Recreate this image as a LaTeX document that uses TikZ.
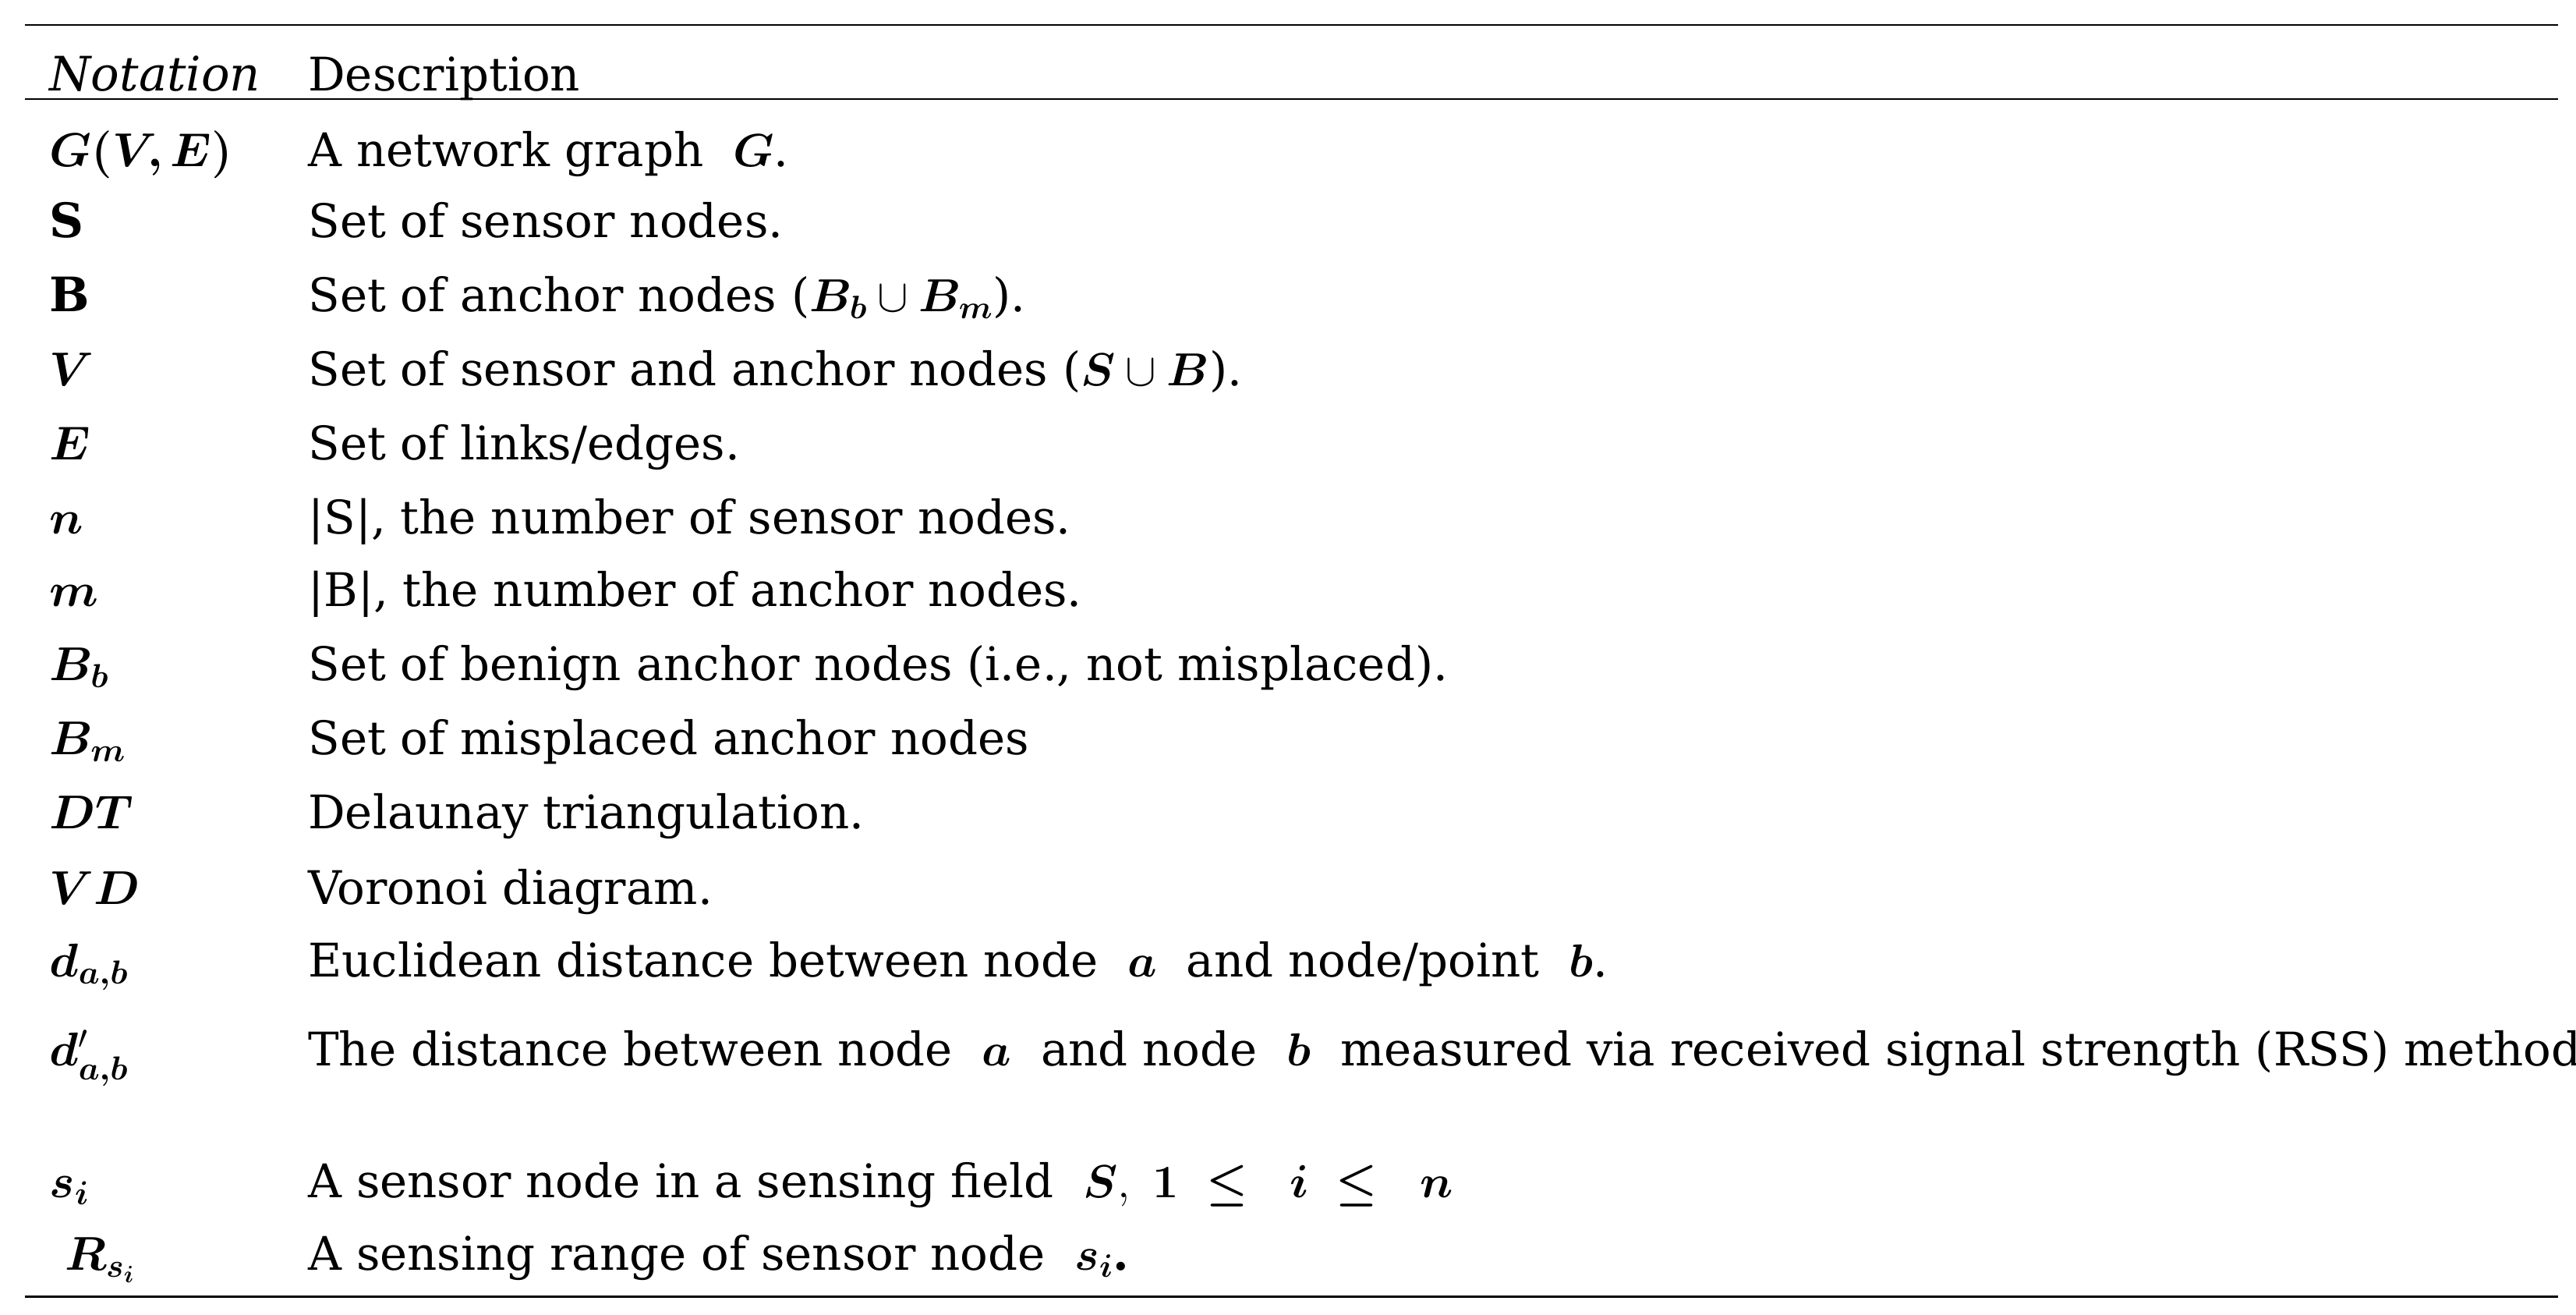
\RequirePackage{fix-cm}
\documentclass[tikz,border=0pt]{standalone}
\usepackage{amsmath,amssymb,bm}
\usepackage{fontspec}
\setmainfont{DejaVu Serif}
\begin{document}
\begin{tikzpicture}[x=0.05cm,y=-0.05cm,
  nt/.style={anchor=base west,inner sep=0,font=\fontsize{41}{46}\selectfont},
  ds/.style={anchor=base west,inner sep=0,font=\fontsize{40}{46}\selectfont}]
\useasboundingbox (0,0) rectangle (1564,798);
\draw[line width=1.5pt] (15,15) -- (1553,15);
\draw[line width=1.5pt] (15,60) -- (1553,60);
\draw[line width=1.5pt] (15,787) -- (1553,787);
\node[nt] (h1) at (30,55) {\textit{Notation}};
\node[ds] (h2) at (187,55) {Description};
\def\row#1#2#3{\node[nt] at (30,#1) {#2}; \node[ds] at (187,#1) {#3};}
\row{101}{$\bm{G(V,E)}$}{A network graph \ $\bm{G}$.}
\row{144}{\textbf{S}}{Set of sensor nodes.}
\row{189}{\textbf{B}}{Set of anchor nodes ($\bm{B_b}\cup\bm{B_m}$).}
\row{234}{$\bm{V}$}{Set of sensor and anchor nodes ($\bm{S}\cup\bm{B}$).}
\row{279}{$\bm{E}$}{Set of links/edges.}
\row{324}{$\bm{n}$}{|S|, the number of sensor nodes.}
\row{368}{$\bm{m}$}{|B|, the number of anchor nodes.}
\row{413}{$\bm{B_b}$}{Set of benign anchor nodes (i.e., not misplaced).}
\row{458}{$\bm{B_m}$}{Set of misplaced anchor nodes}
\row{503}{$\bm{DT}$}{Delaunay triangulation.}
\row{549}{$\bm{VD}$}{Voronoi diagram.}
\row{593}{$\bm{d_{a,b}}$}{Euclidean distance between node \ $\bm{a}$ \ and node/point \ $\bm{b}$.}
\row{647}{$\bm{d_{a,b}}'$}{The distance between node \ $\bm{a}$ \ and node \ $\bm{b}$ \ measured via received signal strength (RSS) method.}
\row{727}{$\bm{s_i}$}{A sensor node in a sensing field \ $\bm{S},\ \bm{1\ \leq\ \ i\ \leq\ \ n}$}
\row{771}{\ $\bm{R_{s_i}}$}{A sensing range of sensor node \ $\bm{s_i}$\textbf{.}}
\end{tikzpicture}
\end{document}
